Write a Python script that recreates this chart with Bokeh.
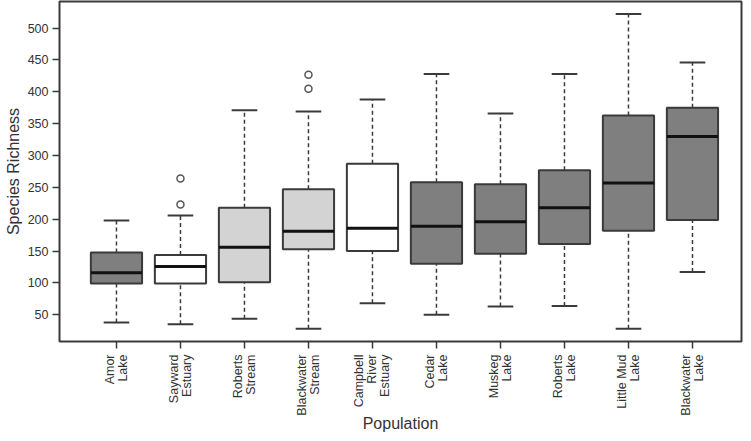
import math
from bokeh.plotting import figure
from bokeh.layouts import column
from bokeh.models import ColumnDataSource, FixedTicker, Range1d
from bokeh.core.properties import value
from bokeh.embed import file_html
from bokeh.resources import INLINE

# ---- data ----
populations = ["Amor\nLake", "Sayward\nEstuary", "Roberts\nStream", "Blackwater\nStream",
               "Campbell\nRiver\nEstuary", "Cedar\nLake", "Muskeg\nLake", "Roberts\nLake",
               "Little Mud\nLake", "Blackwater\nLake"]
whisker_low = [38, 35, 44, 28, 68, 50, 63, 64, 28, 117]
q1          = [99, 99, 101, 153, 150, 130, 146, 161, 182, 199]
median      = [116, 126, 156, 181, 186, 189, 196, 218, 257, 330]
q3          = [148, 144, 218, 247, 287, 258, 255, 277, 363, 375]
whisker_high= [198, 206, 371, 369, 388, 428, 366, 428, 522, 446]
box_fill    = ["#7f7f7f", "#ffffff", "#d3d3d3", "#d3d3d3", "#ffffff",
               "#7f7f7f", "#7f7f7f", "#7f7f7f", "#7f7f7f", "#7f7f7f"]
outlier_pop = [2, 2, 4, 4]
outlier_val = [264, 223, 427, 405]
y_ticks = [50, 100, 150, 200, 250, 300, 350, 400, 450, 500]
x_title = "Population"
y_title = "Species Richness"

pos = list(range(1, len(populations) + 1))
box_w = 0.8
cap_w = 0.4
line_gap = 13  # px between stacked label lines

src = ColumnDataSource(dict(
    x=pos, lo=whisker_low, q1=q1, med=median, q3=q3, hi=whisker_high, fill=box_fill,
    bx0=[x - box_w / 2 for x in pos], bx1=[x + box_w / 2 for x in pos],
    cx0=[x - cap_w / 2 for x in pos], cx1=[x + cap_w / 2 for x in pos],
))

W = 743
xr = Range1d(0.11, 10.766)
p = figure(width=W, height=350, output_backend="svg", toolbar_location=None,
           x_range=xr, y_range=Range1d(8.1, 541.8), min_border=0,
           min_border_left=59, min_border_right=2, min_border_top=1, min_border_bottom=9)
p.xgrid.visible = False
p.ygrid.visible = False
p.outline_line_color = "#3a3a3a"
p.outline_line_width = 2
p.background_fill_color = "white"
p.border_fill_color = "white"

line_col = "#3a3a3a"
p.segment(x0="x", y0="q3", x1="x", y1="hi", source=src, line_color=line_col,
          line_width=1.5, line_dash="4 3")
p.segment(x0="x", y0="lo", x1="x", y1="q1", source=src, line_color=line_col,
          line_width=1.5, line_dash="4 3")
p.segment(x0="cx0", y0="hi", x1="cx1", y1="hi", source=src, line_color=line_col, line_width=2)
p.segment(x0="cx0", y0="lo", x1="cx1", y1="lo", source=src, line_color=line_col, line_width=2)
p.quad(left="bx0", right="bx1", bottom="q1", top="q3", source=src, fill_color="fill",
       line_color=line_col, line_width=2)
p.segment(x0="bx0", y0="med", x1="bx1", y1="med", source=src, line_color="#111111", line_width=3)
p.scatter(x=outlier_pop, y=outlier_val, size=7, marker="circle", fill_color="white",
          line_color="#555555", line_width=1.5)

font = "Liberation Sans"
for ax in (p.xaxis[0], p.yaxis[0]):
    ax.axis_line_color = None
    ax.major_tick_line_color = line_col
    ax.major_tick_line_width = 1.5
    ax.major_tick_out = 7
    ax.major_tick_in = 0
    ax.minor_tick_line_color = None
    ax.major_label_text_font = font
    ax.major_label_text_font_size = "12.5px"
    ax.major_label_text_color = "#333333"
    ax.axis_label_text_font = font
    ax.axis_label_text_font_style = "normal"
    ax.axis_label_text_font_size = "16px"
    ax.axis_label_text_color = "#333333"

p.yaxis.ticker = FixedTicker(ticks=y_ticks)
p.yaxis.major_label_standoff = 4
p.yaxis.axis_label = y_title
p.yaxis.axis_label_standoff = 3

# x axis: ticks only; the category names are drawn in the strip below
p.xaxis.ticker = FixedTicker(ticks=pos)
p.xaxis.major_label_text_color = None
p.xaxis.major_label_standoff = 0

# ---- label strip below the plot (shares the x range) ----
lx, lt, lo_ = [], [], []
for x, lab in zip(pos, populations):
    parts = lab.split("\n")
    n = len(parts)
    for k, part in enumerate(parts):
        lx.append(x)
        lt.append(part)
        lo_.append((k - (n - 1) / 2) * line_gap)

H2 = 83
q = figure(width=W, height=H2, output_backend="svg", toolbar_location=None,
           x_range=xr, y_range=Range1d(H2, 0), min_border=0,
           min_border_left=59, min_border_right=2, min_border_top=0, min_border_bottom=0,
           x_axis_location=None, y_axis_location=None)
q.xgrid.visible = False
q.ygrid.visible = False
q.outline_line_color = None
q.background_fill_color = "white"
q.border_fill_color = "white"

q.text(x=lx, y=[4] * len(lx), text=lt, x_offset=lo_, angle=math.pi / 2,
       text_align="right", text_baseline="middle", text_font=value(font),
       text_font_size="12.5px", text_color="#333333")

q.text(x=[(xr.start + xr.end) / 2], y=[73], text=[x_title], text_align="center",
       text_baseline="alphabetic", text_font=value(font), text_font_size="16px",
       text_color="#333333")

layout = column(p, q, spacing=0)
open("out.html", "w").write(file_html(layout, INLINE))
